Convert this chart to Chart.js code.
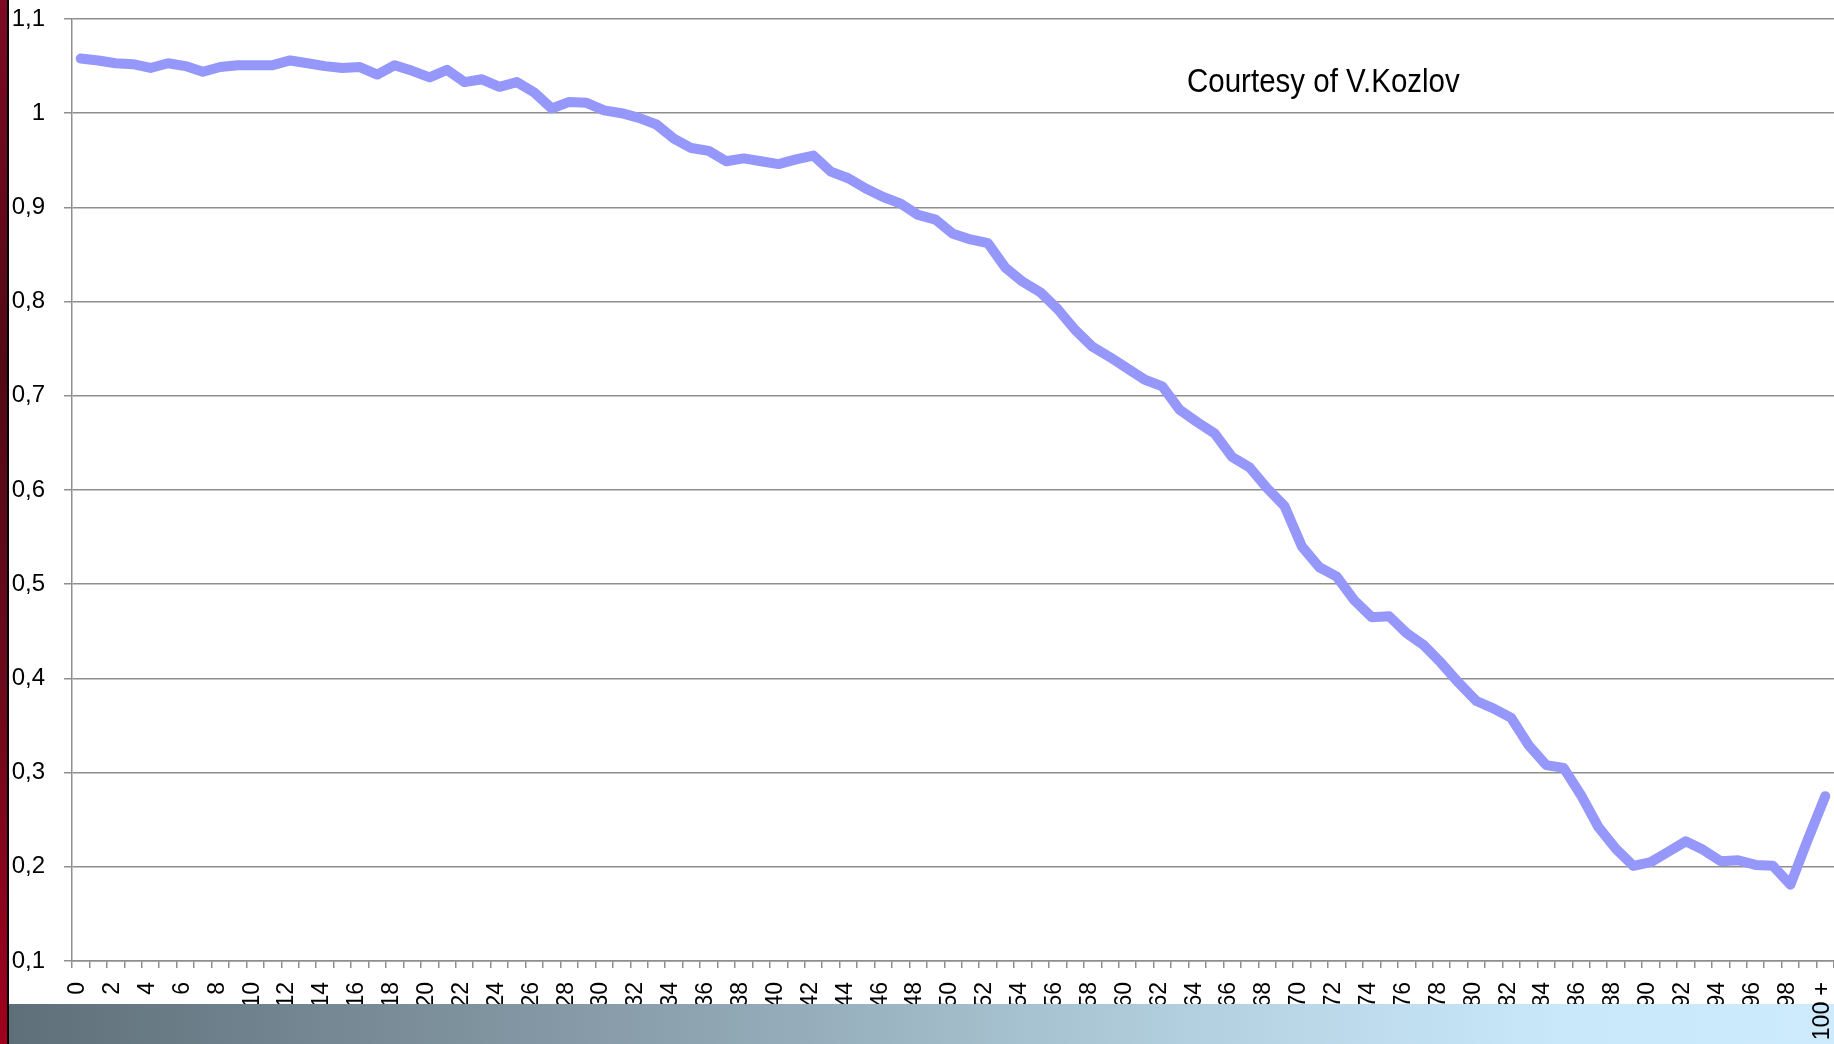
<!DOCTYPE html>
<html>
<head>
<meta charset="utf-8">
<script src="https://cdn.jsdelivr.net/npm/chart.js@4/dist/chart.umd.min.js"></script>
<style>
    html, body { margin: 0; padding: 0; background: #fff; overflow: hidden; }
    #wrap { position: relative; width: 1834px; height: 1044px; }
    #ratio-chart { position: absolute; left: 0; top: 0; }
    #side-bar {
        position: absolute; left: 0; top: 0; width: 7px; height: 1044px;
        background: linear-gradient(to bottom, #7c0a22 0%, #520914 35%, #6a0a1a 65%, #a0001e 100%);
        border-right: 2px solid #000;
    }
</style>
</head>
<body>
<div id="wrap">
    <canvas id="ratio-chart" width="1834" height="1044"></canvas>
    <div id="side-bar"></div>
</div>
<script>
/************************************************************/
/*                 RATIO BY AGE LINE CHART                  */
/************************************************************/

const AGES = [
    '0', '1', '2', '3', '4', '5', '6', '7', '8', '9',
    '10', '11', '12', '13', '14', '15', '16', '17', '18', '19',
    '20', '21', '22', '23', '24', '25', '26', '27', '28', '29',
    '30', '31', '32', '33', '34', '35', '36', '37', '38', '39',
    '40', '41', '42', '43', '44', '45', '46', '47', '48', '49',
    '50', '51', '52', '53', '54', '55', '56', '57', '58', '59',
    '60', '61', '62', '63', '64', '65', '66', '67', '68', '69',
    '70', '71', '72', '73', '74', '75', '76', '77', '78', '79',
    '80', '81', '82', '83', '84', '85', '86', '87', '88', '89',
    '90', '91', '92', '93', '94', '95', '96', '97', '98', '99',
    '100 +'
]

const RATIO = [
    1.058, 1.056, 1.053, 1.052, 1.048, 1.053, 1.050, 1.044, 1.049, 1.051,
    1.051, 1.051, 1.056, 1.053, 1.050, 1.048, 1.049, 1.041, 1.051, 1.045,
    1.038, 1.046, 1.033, 1.036, 1.028, 1.033, 1.022, 1.005, 1.012, 1.011,
    1.003, 1.000, 0.995, 0.988, 0.973, 0.963, 0.960, 0.949, 0.952, 0.949,
    0.946, 0.951, 0.955, 0.938, 0.931, 0.920, 0.911, 0.904, 0.892, 0.887,
    0.872, 0.866, 0.862, 0.836, 0.821, 0.810, 0.792, 0.770, 0.752, 0.741,
    0.729, 0.717, 0.710, 0.685, 0.672, 0.660, 0.635, 0.624, 0.602, 0.583,
    0.540, 0.518, 0.508, 0.483, 0.465, 0.466, 0.448, 0.435, 0.416, 0.395,
    0.376, 0.368, 0.358, 0.329, 0.308, 0.305, 0.276, 0.242, 0.219, 0.201,
    0.205, 0.216, 0.227, 0.218, 0.206, 0.207, 0.202, 0.201, 0.181, 0.229,
    0.275
]

const Y_TICK_LABELS = ['0,1', '0,2', '0,3', '0,4', '0,5', '0,6', '0,7', '0,8', '0,9', '1', '1,1']

const NOTE = 'Courtesy of V.Kozlov'

const GRID_GREY = '#8e8e8e'
const FONT_FAMILY = '"Liberation Sans", Arial, sans-serif'

/* Draws the credit note inside the plot area */
const notePlugin = {
    id: 'note',
    afterDraw(chart) {
        const ctx = chart.ctx;
        const area = chart.chartArea;
        ctx.save();
        ctx.translate(area.left + 1115, area.top + 73);
        ctx.scale(1, 1.1);
        ctx.font = '29.5px ' + FONT_FAMILY;
        ctx.fillStyle = '#000';
        ctx.textBaseline = 'alphabetic';
        ctx.fillText(NOTE, 0, 0);
        ctx.restore();
    }
};

/* Slide footer band: covers the age labels, only the last one stays on top */
const footerPlugin = {
    id: 'footer',
    afterDraw(chart) {
        const ctx = chart.ctx;
        const w = chart.width;
        const h = chart.height;
        const grad = ctx.createLinearGradient(8, 0, w, 0);
        grad.addColorStop(0, '#5f6f79');
        grad.addColorStop(0.35, '#8aa0ac');
        grad.addColorStop(0.65, '#b3d0e0');
        grad.addColorStop(0.85, '#c9e8fa');
        grad.addColorStop(1, '#cdebfc');
        ctx.save();
        ctx.fillStyle = grad;
        ctx.fillRect(8, h - 40, w - 8, 40);

        // redraw the "100 +" label over the band
        const items = chart.scales.x.getLabelItems();
        const last = items[items.length - 1];
        ctx.translate(last.options.translation[0], last.options.translation[1]);
        ctx.rotate(last.options.rotation);
        ctx.font = last.font.string;
        ctx.fillStyle = last.options.color;
        ctx.textAlign = last.options.textAlign;
        ctx.textBaseline = last.options.textBaseline;
        ctx.fillText(last.label, 0, last.textOffset);
        ctx.restore();
    }
};

/* Init the chart */
function initRatioChart() {
    var ctx = document.getElementById('ratio-chart');
    return new Chart(ctx, {
        type: 'line',
        data: {
            labels: AGES,
            datasets: [{
                data: RATIO,
                borderColor: '#9597fa',
                borderWidth: 10,
                borderCapStyle: 'round',
                borderJoinStyle: 'round',
                pointRadius: 0,
                tension: 0,
                fill: false
            }]
        },
        options: {
            responsive: false,
            animation: false,
            layout: { padding: { top: 19, left: 0, right: 0, bottom: 0 } },
            plugins: {
                legend: { display: false },
                tooltip: { enabled: false }
            },
            scales: {
                x: {
                    offset: true,
                    border: { color: GRID_GREY, width: 1.5 },
                    grid: {
                        offset: true,
                        drawOnChartArea: false,
                        color: GRID_GREY,
                        lineWidth: 1.5,
                        tickLength: 7
                    },
                    ticks: {
                        autoSkip: false,
                        minRotation: 90,
                        maxRotation: 90,
                        padding: 14,
                        labelOffset: -3,
                        color: '#000',
                        font: { family: FONT_FAMILY, size: 23 },
                        callback: function(value, index) {
                            return index % 2 === 0 ? AGES[index] : '';
                        }
                    },
                    afterFit: function(scale) {
                        scale.height = 83;
                        scale.paddingLeft = 0;
                        scale.paddingRight = 0;
                    }
                },
                y: {
                    min: 0.1,
                    max: 1.1,
                    border: { color: GRID_GREY, width: 1.5 },
                    grid: {
                        color: GRID_GREY,
                        lineWidth: 1.5,
                        tickLength: 8
                    },
                    ticks: {
                        stepSize: 0.1,
                        padding: 19,
                        color: '#000',
                        font: { family: FONT_FAMILY, size: 24 },
                        callback: function(value, index) {
                            return Y_TICK_LABELS[index];
                        }
                    },
                    afterFit: function(scale) {
                        scale.width = 72;
                        scale.paddingTop = 0;
                        scale.paddingBottom = 0;
                    }
                }
            }
        },
        plugins: [notePlugin, footerPlugin]
    });
}

var ratioChart = initRatioChart();
</script>
</body>
</html>
